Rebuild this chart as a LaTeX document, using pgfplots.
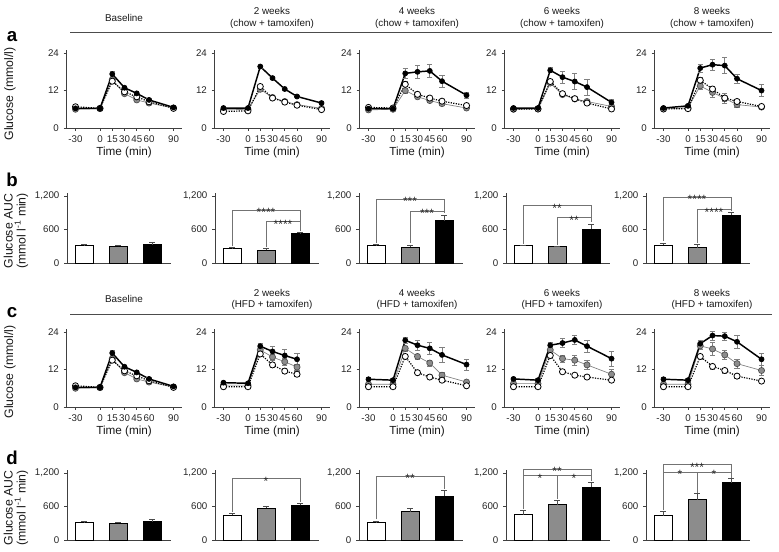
\documentclass[border=0pt]{standalone}
\usepackage{pgfplots}
\pgfplotsset{compat=1.18}
\usepackage{fontspec}
\setmainfont{Liberation Sans}

\tikzset{star/.style={font=\fontsize{9}{9}\selectfont, anchor=base, yshift=-5.1pt, inner sep=0pt, black!85}}
% bracket: x1, x2, level, leg1, leg2, xmid, label
\newcommand{\brk}[7]{%
  \draw[black!55, line width=0.45pt] (axis cs:#1,#4) |- (axis cs:#2,#3) -- (axis cs:#2,#5);
  \node[star] at (axis cs:#6,#3) {#7};}

\pgfplotsset{
  base/.style={scale only axis, anchor=south west, axis lines=left,
    axis line style={-, black!75, line width=0.6pt},
    tick style={black!75, line width=0.6pt}, tick align=outside, major tick length=2.2pt,
    clip=false, tick label style={font=\fontsize{7.3}{8}\selectfont, black!85},
    /pgf/number format/assume math mode=true},
  gl/.style={base, width=86.4pt, height=58.5pt, xmin=-41, xmax=100, ymin=0, ymax=25,
    xtick={-30,0,15,30,45,60,90}, xticklabels={-30,0,15,30,45,60,90},
    ytick={0,12,24}, yticklabels={0,12,24}, xlabel={Time (min)},
    every axis x label/.style={at={(axis description cs:0.5,0)}, anchor=center,
      yshift=-18.5pt, font=\fontsize{8.8}{10}\selectfont, black!90}},
  gb/.style={base, width=77.8pt, height=52.3pt, xmin=-0.5, xmax=2.55, ymin=0, ymax=1250,
    xtick=\empty, ytick={0,600,1200}, yticklabels={0,600,{1,200}}},
  eb/.style={error bars/y dir=both, error bars/y explicit,
    error bars/error bar style={black!50, line width=0.5pt, solid},
    error bars/error mark options={rotate=90, black!50, line width=0.5pt, mark size=2pt, solid}},
  sb/.style={black, line width=1.1pt, mark=*, mark size=1.9pt,
    mark options={fill=black, solid, line width=0.5pt}, eb},
  sg/.style={black!50, line width=0.5pt, mark=*, mark size=2.3pt,
    mark options={fill=black!45, draw=black!70, solid, line width=0.5pt}, eb},
  sw/.style={black, densely dotted, line width=0.9pt, mark=*, mark size=2.3pt,
    mark options={fill=white, draw=black, solid, line width=0.6pt}, eb},
  eb2/.style={error bars/y dir=plus, error bars/y explicit,
    error bars/error bar style={black!70, line width=0.5pt},
    error bars/error mark options={rotate=90, black!70, line width=0.5pt, mark size=2.1pt}},
  bw/.style={ybar, bar width=13.5pt, fill=white, draw=black, line width=0.6pt, eb2},
  bg/.style={ybar, bar width=13.5pt, fill=black!45, draw=black, line width=0.6pt, eb2},
  bk/.style={ybar, bar width=13.5pt, fill=black, draw=black, line width=0.6pt, eb2},
}

\begin{document}
\begin{tikzpicture}
\path[use as bounding box] (0,0) rectangle (584.25pt,413.25pt);

% ---------------- row a ----------------
\begin{axis}[gl, at={(49.875pt,317.25pt)}]
\addplot[sg] coordinates {(-30,6.0) +- (0,0.4) (0,6.2) +- (0,0.3) (15,15.5) +- (0,0.8) (30,11.0) +- (0,0.6) (45,9.0) +- (0,0.5) (60,8.0) +- (0,0.4) (90,6.4) +- (0,0.3)};
\addplot[sw] coordinates {(-30,6.8) +- (0,0.4) (0,6.3) +- (0,0.3) (15,15.0) +- (0,0.8) (30,11.6) +- (0,0.6) (45,10.0) +- (0,0.5) (60,8.4) +- (0,0.4) (90,6.3) +- (0,0.3)};
\addplot[sb] coordinates {(-30,6.3) +- (0,0.4) (0,6.3) +- (0,0.3) (15,17.3) +- (0,1.0) (30,12.9) +- (0,0.6) (45,11.1) +- (0,0.5) (60,9.0) +- (0,0.4) (90,6.6) +- (0,0.3)};
\end{axis}

\begin{axis}[gl, at={(160.875pt,317.25pt)}]
\addplot[sg] coordinates {(-30,5.8) +- (0,0.3) (0,6.0) +- (0,0.3) (15,12.4) +- (0,0.6) (30,9.8) +- (0,0.5) (45,8.5) +- (0,0.4) (60,7.5) +- (0,0.3) (90,6.3) +- (0,0.3)};
\addplot[sw] coordinates {(-30,5.3) +- (0,0.3) (0,5.5) +- (0,0.3) (15,13.3) +- (0,0.6) (30,9.6) +- (0,0.5) (45,8.3) +- (0,0.4) (60,7.3) +- (0,0.3) (90,5.9) +- (0,0.3)};
\addplot[sb] coordinates {(-30,6.4) +- (0,0.3) (0,6.4) +- (0,0.3) (15,19.7) +- (0,0.5) (30,16.0) +- (0,0.5) (45,12.5) +- (0,0.5) (60,10.1) +- (0,0.4) (90,8.0) +- (0,0.4)};
\end{axis}

\begin{axis}[gl, at={(269.625pt,317.25pt)}]
\addplot[sg] coordinates {(-30,5.8) +- (0,0.3) (0,6.0) +- (0,0.3) (15,12.0) +- (0,0.8) (30,10.0) +- (0,0.6) (45,8.8) +- (0,0.5) (60,7.8) +- (0,0.4) (90,6.4) +- (0,0.3)};
\addplot[sw] coordinates {(-30,6.6) +- (0,0.3) (0,6.4) +- (0,0.3) (15,14.0) +- (0,0.8) (30,10.8) +- (0,0.6) (45,9.6) +- (0,0.5) (60,8.6) +- (0,0.4) (90,7.2) +- (0,0.3)};
\addplot[sb] coordinates {(-30,6.2) +- (0,0.4) (0,6.2) +- (0,0.4) (15,17.5) +- (0,1.5) (30,18.0) +- (0,2.0) (45,18.3) +- (0,2.2) (60,15.0) +- (0,2.0) (90,10.5) +- (0,1.0)};
\end{axis}

\begin{axis}[gl, at={(378.375pt,317.25pt)}]
\addplot[sg] coordinates {(-30,6.0) +- (0,0.3) (0,6.1) +- (0,0.3) (15,14.4) +- (0,0.6) (30,10.7) +- (0,0.5) (45,9.3) +- (0,0.4) (60,8.5) +- (0,0.4) (90,6.9) +- (0,0.3)};
\addplot[sw] coordinates {(-30,6.1) +- (0,0.3) (0,6.1) +- (0,0.3) (15,14.9) +- (0,0.6) (30,11.0) +- (0,0.5) (45,9.4) +- (0,0.4) (60,8.0) +- (0,0.4) (90,6.1) +- (0,0.3)};
\addplot[sb] coordinates {(-30,6.4) +- (0,0.5) (0,6.4) +- (0,0.5) (15,18.5) +- (0,0.8) (30,16.3) +- (0,2.0) (45,14.9) +- (0,2.5) (60,13.1) +- (0,2.5) (90,8.2) +- (0,1.0)};
\end{axis}

\begin{axis}[gl, at={(490.875pt,317.25pt)}]
\addplot[sg] coordinates {(-30,6.1) +- (0,0.3) (0,6.5) +- (0,0.3) (15,13.5) +- (0,1.2) (30,11.4) +- (0,1.5) (45,9.5) +- (0,1.5) (60,7.5) +- (0,0.8) (90,6.7) +- (0,0.4)};
\addplot[sw] coordinates {(-30,6.1) +- (0,0.3) (0,6.2) +- (0,0.3) (15,15.3) +- (0,1.0) (30,12.5) +- (0,1.0) (45,9.6) +- (0,1.0) (60,8.5) +- (0,0.6) (90,6.9) +- (0,0.4)};
\addplot[sb] coordinates {(-30,6.4) +- (0,0.5) (0,7.1) +- (0,0.5) (15,19.2) +- (0,1.3) (30,20.3) +- (0,1.8) (45,20.0) +- (0,2.5) (60,15.8) +- (0,1.5) (90,12.0) +- (0,2.0)};
\end{axis}

% ---------------- row b ----------------
\begin{axis}[gb, at={(50.25pt,216pt)}]
\addplot[bw] coordinates {(0,309) +- (0,20)};
\addplot[bg] coordinates {(1,297) +- (0,20)};
\addplot[bk] coordinates {(2,327) +- (0,40)};
\end{axis}

\begin{axis}[gb, at={(161.25pt,216pt)}]
\addplot[bw] coordinates {(0,267) +- (0,10)};
\addplot[bg] coordinates {(1,226) +- (0,30)};
\addplot[bk] coordinates {(2,535) +- (0,10)};
\brk{0}{2}{950}{300}{570}{1}{****}
\brk{1}{2}{742}{280}{570}{1.5}{****}
\end{axis}

\begin{axis}[gb, at={(269.25pt,216pt)}]
\addplot[bw] coordinates {(0,310) +- (0,25)};
\addplot[bg] coordinates {(1,285) +- (0,40)};
\addplot[bk] coordinates {(2,760) +- (0,100)};
\brk{0}{2}{1150}{360}{890}{1}{***}
\brk{1}{2}{930}{350}{890}{1.5}{***}
\end{axis}

\begin{axis}[gb, at={(379.5pt,216pt)}]
\addplot[bw] coordinates {(0,310) +- (0,10)};
\addplot[bg] coordinates {(1,290) +- (0,10)};
\addplot[bk] coordinates {(2,610) +- (0,90)};
\brk{0}{2}{1030}{345}{730}{1}{**}
\brk{1}{2}{820}{325}{730}{1.5}{**}
\end{axis}

\begin{axis}[gb, at={(484.5pt,216pt)}]
\addplot[bw] coordinates {(0,320) +- (0,40)};
\addplot[bg] coordinates {(1,275) +- (0,60)};
\addplot[bk] coordinates {(2,860) +- (0,50)};
\brk{0}{2}{1180}{390}{940}{1}{****}
\brk{1}{2}{960}{365}{940}{1.5}{****}
\end{axis}

% ---------------- row c ----------------
\begin{axis}[gl, at={(49.875pt,108pt)}]
\addplot[sg] coordinates {(-30,6.0) +- (0,0.4) (0,6.2) +- (0,0.3) (15,15.5) +- (0,0.8) (30,11.0) +- (0,0.6) (45,9.0) +- (0,0.5) (60,8.0) +- (0,0.4) (90,6.4) +- (0,0.3)};
\addplot[sw] coordinates {(-30,6.8) +- (0,0.4) (0,6.3) +- (0,0.3) (15,15.0) +- (0,0.8) (30,11.6) +- (0,0.6) (45,10.0) +- (0,0.5) (60,8.4) +- (0,0.4) (90,6.3) +- (0,0.3)};
\addplot[sb] coordinates {(-30,6.3) +- (0,0.4) (0,6.3) +- (0,0.3) (15,17.3) +- (0,1.0) (30,12.9) +- (0,0.6) (45,11.1) +- (0,0.5) (60,9.0) +- (0,0.4) (90,6.6) +- (0,0.3)};
\end{axis}

\begin{axis}[gl, at={(160.875pt,108pt)}]
\addplot[sg] coordinates {(-30,7.0) +- (0,0.4) (0,7.0) +- (0,0.4) (15,18.3) +- (0,0.8) (30,16.0) +- (0,1.0) (45,14.5) +- (0,1.0) (60,12.8) +- (0,1.0)};
\addplot[sw] coordinates {(-30,6.5) +- (0,0.4) (0,6.5) +- (0,0.4) (15,17.0) +- (0,0.8) (30,13.5) +- (0,0.8) (45,11.5) +- (0,0.8) (60,10.5) +- (0,0.8)};
\addplot[sb] coordinates {(-30,7.8) +- (0,0.4) (0,7.6) +- (0,0.4) (15,19.5) +- (0,1.0) (30,17.8) +- (0,1.5) (45,16.5) +- (0,2.0) (60,15.3) +- (0,2.0)};
\end{axis}

\begin{axis}[gl, at={(269.625pt,108pt)}]
\addplot[sg] coordinates {(-30,7.3) +- (0,0.5) (0,7.3) +- (0,0.5) (15,18.8) +- (0,0.8) (30,16.2) +- (0,0.8) (45,14.1) +- (0,1.0) (60,10.2) +- (0,0.8) (90,8.0) +- (0,0.6)};
\addplot[sw] coordinates {(-30,6.5) +- (0,0.4) (0,6.5) +- (0,0.4) (15,16.2) +- (0,0.8) (30,11.0) +- (0,0.6) (45,9.6) +- (0,0.5) (60,8.6) +- (0,0.5) (90,6.8) +- (0,0.4)};
\addplot[sb] coordinates {(-30,8.9) +- (0,0.5) (0,8.6) +- (0,0.5) (15,21.4) +- (0,1.0) (30,19.8) +- (0,1.5) (45,18.8) +- (0,2.0) (60,16.7) +- (0,2.5) (90,13.6) +- (0,1.8)};
\end{axis}

\begin{axis}[gl, at={(378.375pt,108pt)}]
\addplot[sg] coordinates {(-30,7.5) +- (0,0.5) (0,7.5) +- (0,0.5) (15,18.3) +- (0,1.0) (30,15.5) +- (0,1.2) (45,15.0) +- (0,1.5) (60,13.5) +- (0,1.5) (90,10.5) +- (0,1.5)};
\addplot[sw] coordinates {(-30,6.5) +- (0,0.4) (0,6.5) +- (0,0.4) (15,16.5) +- (0,0.8) (30,11.3) +- (0,0.6) (45,10.2) +- (0,0.5) (60,9.6) +- (0,0.5) (90,8.6) +- (0,0.5)};
\addplot[sb] coordinates {(-30,9.0) +- (0,0.5) (0,8.6) +- (0,0.5) (15,19.8) +- (0,1.0) (30,20.5) +- (0,1.5) (45,21.5) +- (0,1.5) (60,19.5) +- (0,2.0) (90,15.5) +- (0,2.5)};
\end{axis}

\begin{axis}[gl, at={(490.875pt,108pt)}]
\addplot[sg] coordinates {(-30,7.3) +- (0,0.5) (0,7.3) +- (0,0.5) (15,19.6) +- (0,1.0) (30,18.6) +- (0,2.0) (45,16.7) +- (0,1.5) (60,13.9) +- (0,1.5) (90,11.7) +- (0,1.5)};
\addplot[sw] coordinates {(-30,6.5) +- (0,0.4) (0,6.5) +- (0,0.4) (15,16.2) +- (0,0.8) (30,13.0) +- (0,0.8) (45,11.7) +- (0,0.8) (60,9.9) +- (0,0.6) (90,8.3) +- (0,0.5)};
\addplot[sb] coordinates {(-30,8.9) +- (0,0.5) (0,8.6) +- (0,0.5) (15,20.3) +- (0,1.0) (30,22.9) +- (0,1.5) (45,22.7) +- (0,1.2) (60,20.9) +- (0,2.0) (90,15.3) +- (0,2.0)};
\end{axis}

% ---------------- row d ----------------
\begin{axis}[gb, at={(50.25pt,8.25pt)}]
\addplot[bw] coordinates {(0,309) +- (0,20)};
\addplot[bg] coordinates {(1,297) +- (0,20)};
\addplot[bk] coordinates {(2,327) +- (0,40)};
\end{axis}

\begin{axis}[gb, at={(161.25pt,8.25pt)}]
\addplot[bw] coordinates {(0,440) +- (0,40)};
\addplot[bg] coordinates {(1,570) +- (0,30)};
\addplot[bk] coordinates {(2,620) +- (0,30)};
\brk{0}{2}{1100}{510}{680}{1}{*}
\end{axis}

\begin{axis}[gb, at={(269.25pt,8.25pt)}]
\addplot[bw] coordinates {(0,310) +- (0,30)};
\addplot[bg] coordinates {(1,510) +- (0,60)};
\addplot[bk] coordinates {(2,790) +- (0,100)};
\brk{0}{2}{1150}{370}{920}{1}{**}
\end{axis}

\begin{axis}[gb, at={(379.5pt,8.25pt)}]
\addplot[bw] coordinates {(0,457) +- (0,82)};
\addplot[bg] coordinates {(1,632) +- (0,82)};
\addplot[bk] coordinates {(2,948) +- (0,94)};
\brk{0}{2}{1159}{560}{1060}{0.5}{*}
\draw[black!55, line width=0.45pt] (axis cs:1,1159) -- (axis cs:1,735);
\node[star] at (axis cs:1.5,1159) {*};
\brk{0}{2}{1276}{1159}{1159}{1}{**}
\end{axis}

\begin{axis}[gb, at={(484.5pt,8.25pt)}]
\addplot[bw] coordinates {(0,439) +- (0,70)};
\addplot[bg] coordinates {(1,726) +- (0,105)};
\addplot[bk] coordinates {(2,1024) +- (0,76)};
\brk{0}{2}{1218}{530}{1115}{0.5}{*}
\draw[black!55, line width=0.45pt] (axis cs:1,1218) -- (axis cs:1,845);
\node[star] at (axis cs:1.5,1218) {*};
\brk{0}{2}{1358}{1218}{1218}{1}{***}
\end{axis}

% ---------------- texts (pixel coordinates) ----------------
\begin{scope}[x=0.75pt, y=-0.75pt, yshift=413.25pt]
  \tikzset{hd/.style={font=\fontsize{7.4}{8}\selectfont, black!90, inner sep=0pt},
           yl/.style={font=\fontsize{9.2}{9.8}\selectfont, black!90, rotate=90, align=center, inner sep=0pt},
           pl/.style={font=\fontsize{14}{14}\bfseries\selectfont, inner sep=0pt}}
  \draw[black!70, line width=0.75pt] (70,33) -- (772,33);
  \draw[black!70, line width=0.75pt] (70,314) -- (772,314);
  \node[hd] at (124,18) {Baseline};
  \node[hd] at (272,11) {2 weeks};
  \node[hd] at (272,24) {(chow + tamoxifen)};
  \node[hd] at (417,11) {4 weeks};
  \node[hd] at (417,24) {(chow + tamoxifen)};
  \node[hd] at (562,11) {6 weeks};
  \node[hd] at (562,24) {(chow + tamoxifen)};
  \node[hd] at (712,11) {8 weeks};
  \node[hd] at (712,24) {(chow + tamoxifen)};
  \node[hd] at (124,299) {Baseline};
  \node[hd] at (272,293) {2 weeks};
  \node[hd] at (272,305) {(HFD + tamoxifen)};
  \node[hd] at (417,293) {4 weeks};
  \node[hd] at (417,305) {(HFD + tamoxifen)};
  \node[hd] at (562,293) {6 weeks};
  \node[hd] at (562,305) {(HFD + tamoxifen)};
  \node[hd] at (712,293) {8 weeks};
  \node[hd] at (712,305) {(HFD + tamoxifen)};
  \node[yl] at (10,94) {Glucose (mmol/l)};
  \node[yl] at (10,372) {Glucose (mmol/l)};
  \node[yl] at (16,231) {Glucose AUC\\(mmol l\textsuperscript{-1} min)};
  \node[yl] at (16,508) {Glucose AUC\\(mmol l\textsuperscript{-1} min)};
  \node[pl] at (12,37) {a};
  \node[pl] at (12,180) {b};
  \node[pl] at (12,313) {c};
  \node[pl] at (12,458) {d};
\end{scope}
\end{tikzpicture}
\end{document}
